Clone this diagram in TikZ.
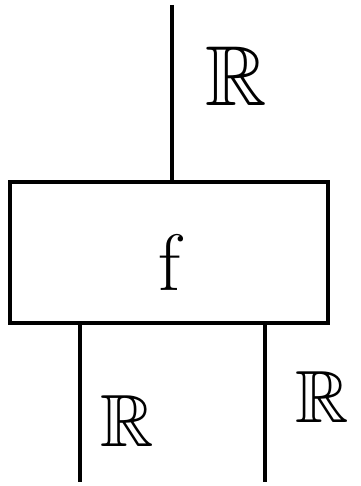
\documentclass[tikz,border=0pt]{standalone}
\usepackage{amssymb}
\usepackage{fontspec}
\begin{document}
\begin{tikzpicture}[x=1pt,y=-1pt,line width=3.5pt,
  morph/.style={draw, minimum width=318pt, minimum height=141pt, inner sep=0pt},
  wirelabel/.style={scale=7.4}]
\useasboundingbox (0,0) rectangle (360,486);
\node[morph] (f) at (169,252.5) {};
\node[font=\fontsize{80}{80}\selectfont] (name) at (170,262) {f};
\coordinate (out) at (172,5);
\coordinate (inl) at (80,482);
\coordinate (inr) at (265,482);
\node[wirelabel, scale=1.15] (lout) at (236,76) {$\mathbb{R}$};
\node[wirelabel] (linl) at (127,421) {$\mathbb{R}$};
\node[wirelabel] (linr) at (322,397) {$\mathbb{R}$};
\draw (out) -- (out |- f.north);
\draw (inl |- f.south) -- (inl);
\draw (inr |- f.south) -- (inr);
\end{tikzpicture}
\end{document}
